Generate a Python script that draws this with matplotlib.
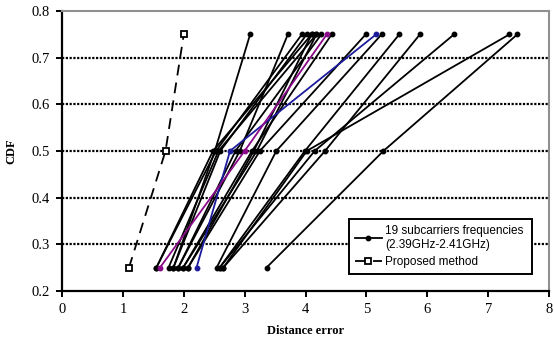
import matplotlib
matplotlib.use("Agg")
import matplotlib.pyplot as plt
from matplotlib.lines import Line2D

cdf_levels = [0.25, 0.5, 0.75]

# distance error at CDF 0.25 / 0.5 / 0.75 for each of the 19 subcarriers
sub_x25 = [1.55, 1.55, 1.75, 1.83, 1.83, 1.91, 1.91, 1.99, 1.99, 2.07,
           2.07, 2.54, 2.59, 2.59, 2.65, 2.65, 3.36, 2.21, 1.61]
sub_x50 = [2.48, 2.53, 2.57, 2.51, 2.60, 2.85, 2.92, 3.12, 3.20, 3.15,
           3.25, 3.52, 3.99, 4.15, 4.02, 4.32, 5.28, 2.76, 3.00]
sub_x75 = [4.10, 3.94, 4.18, 3.09, 4.02, 4.26, 3.71, 4.43, 4.18, 4.10,
           4.99, 5.25, 5.54, 6.44, 7.35, 5.88, 7.48, 5.16, 4.35]
sub_colors = ["black"] * 17 + ["#1c1c9c", "#8a0a8a"]

proposed_x = [1.10, 1.70, 2.00]

x_ticks = list(range(0, 9))
y_ticks = [0.2, 0.3, 0.4, 0.5, 0.6, 0.7, 0.8]

fig = plt.figure(figsize=(5.54, 3.45), dpi=100)
ax = fig.add_axes([0.112, 0.157, 0.879, 0.811])

for i in range(len(sub_x25)):
    ax.plot([sub_x25[i], sub_x50[i], sub_x75[i]], cdf_levels,
            color=sub_colors[i], lw=1.3, marker="o", ms=3.2, zorder=3)

ax.plot(proposed_x, cdf_levels, color="black", lw=1.3, ls=(0, (6, 4)),
        marker="s", ms=5, mfc="white", mec="black", mew=1.3, zorder=4)

ax.set_xlim(0, 8)
ax.set_ylim(0.2, 0.8)
ax.set_xticks(x_ticks)
ax.set_yticks(y_ticks)
ax.set_yticklabels(["%.1f" % v for v in y_ticks])

for v in y_ticks[1:-1]:
    ax.axhline(v, color="black", lw=1.6, ls=(0, (1, 0.7)), zorder=1)

for s in ["left", "bottom"]:
    ax.spines[s].set_color("black")
    ax.spines[s].set_linewidth(1.6)
for s in ["top", "right"]:
    ax.spines[s].set_color("#909090")
    ax.spines[s].set_linewidth(1.5)

ax.tick_params(direction="out", length=4, width=1.4, labelsize=10.5, pad=5)
for lab in ax.get_xticklabels() + ax.get_yticklabels():
    lab.set_family("Liberation Serif")

ax.set_xlabel("Distance error", family="Liberation Serif", fontweight="bold",
              fontsize=9, labelpad=6)
ax.set_ylabel("CDF", family="Liberation Serif", fontweight="bold",
              fontsize=9, labelpad=10)

handles = [
    Line2D([], [], color="black", lw=1.3, marker="o", ms=3.2),
    Line2D([], [], color="black", lw=1.3, ls=(0, (6, 4)), marker="s", ms=5,
           mfc="white", mec="black", mew=1.3),
]
leg = ax.legend(handles, ["19 subcarriers frequencies\n(2.39GHz-2.41GHz)",
                          "Proposed method"],
                loc="lower left", bbox_to_anchor=(0.589, 0.06, 0.376, 0.229),
                mode="expand", fancybox=False, framealpha=1, edgecolor="black",
                borderaxespad=0, handlelength=2.3, handletextpad=0.3,
                borderpad=0.5, labelspacing=0.45,
                prop={"family": "Liberation Sans", "size": 8.5})
leg.get_frame().set_linewidth(1.4)

fig.savefig("out.png", dpi=100)
